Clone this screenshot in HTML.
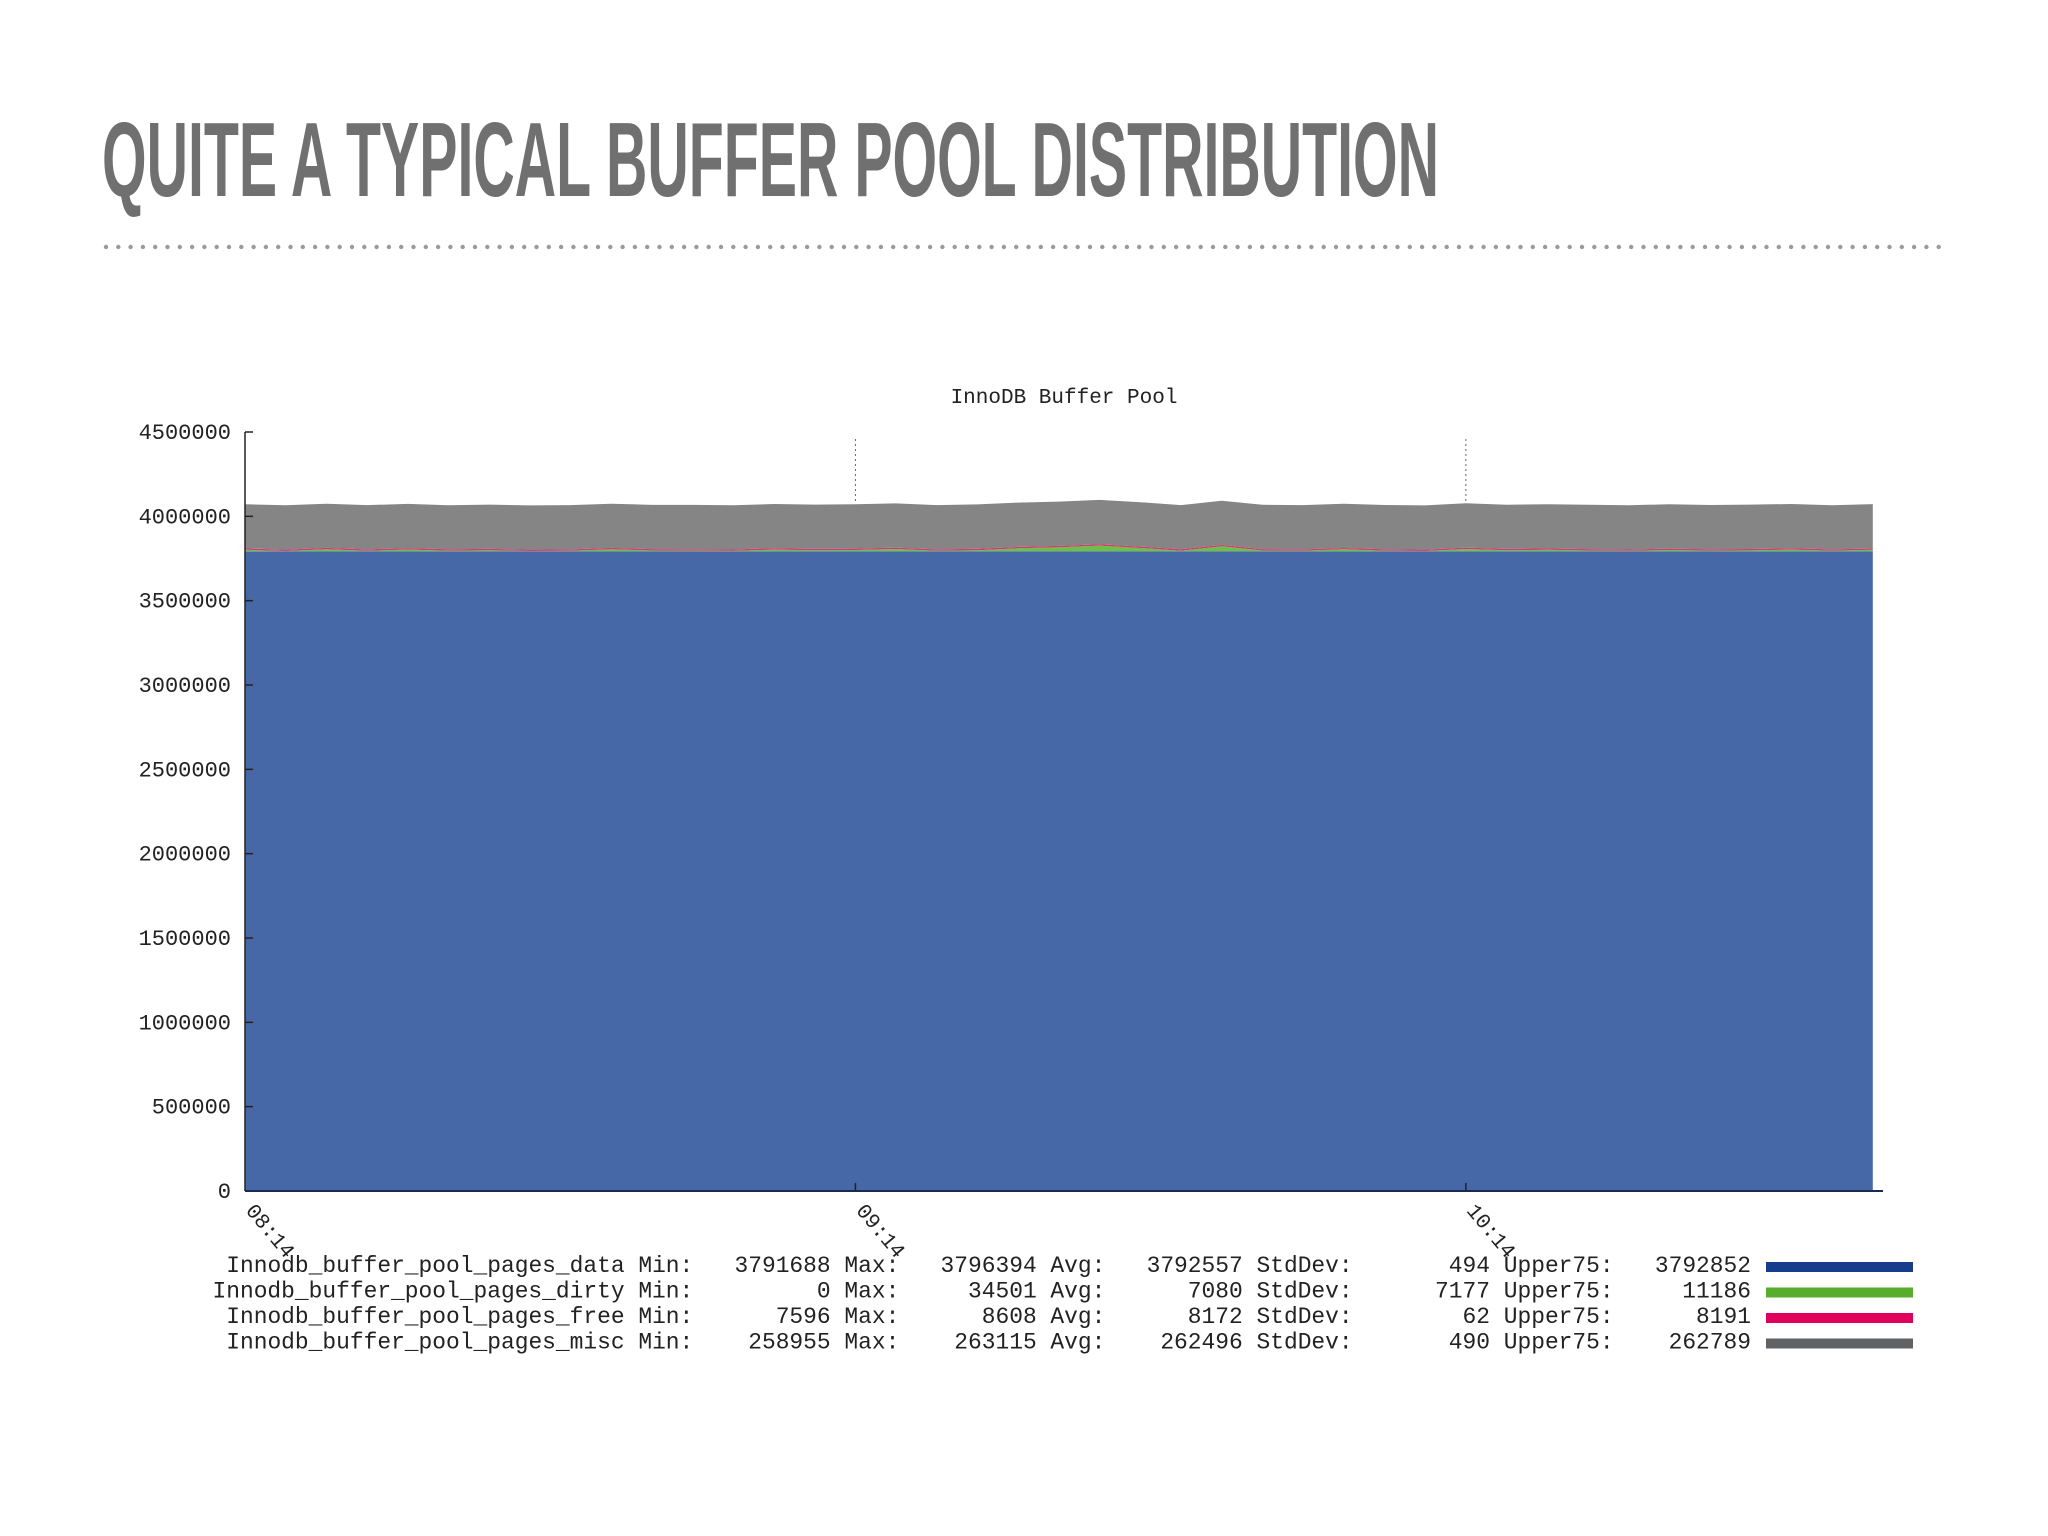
<!DOCTYPE html>
<html><head><meta charset="utf-8"><style>
html,body{margin:0;padding:0;background:#fff;}
svg{display:block;}
</style></head><body>
<svg id="chart" width="2048" height="1536" viewBox="0 0 2048 1536" xmlns="http://www.w3.org/2000/svg">
<text x="102" y="196" font-family="Liberation Sans, sans-serif" font-weight="bold" font-size="106" fill="#707070" textLength="1337" lengthAdjust="spacingAndGlyphs">QUITE A TYPICAL BUFFER POOL DISTRIBUTION</text>
<g id="dots"></g>
<text x="1064" y="403" text-anchor="middle" font-family="Liberation Mono, monospace" font-size="21" fill="#222">InnoDB Buffer Pool</text>
<g id="plot"></g>
<g id="yaxis"></g>
<g id="xaxis"></g>
<g id="legend"></g>
</svg>
<script>
const times=[0,4,8,12,16,20,24,28,32,36,40,44,48,52,56,60,64,68,72,76,80,84,88,92,96,100,104,108,112,116,120,124,128,132,136,140,144,148,152,156,160];
const dataSeries=[3792500,3792600,3792400,3792700,3792500,3792300,3792600,3792500,3792800,3792400,3792500,3792600,3792300,3792700,3792500,3792400,3792600,3792800,3792500,3792400,3792700,3792600,3792500,3792400,3792600,3792500,3792700,3792300,3792500,3792600,3792400,3792700,3792500,3792600,3792400,3792500,3792700,3792300,3792600,3792500,3792400];
const dirtySeries=[9000,2000,12000,3000,11000,4000,6000,2000,3000,12000,5000,4000,3000,10000,6000,8000,14000,3000,7000,18000,24000,34000,20000,4000,30000,5000,3000,12000,4000,2000,14000,6000,9000,5000,3000,8000,4000,6000,10000,3000,9000];
const freeSeries=[8200,8150,8190,8170,8210,8160,8180,8200,8140,8190,8170,8200,8160,8180,8190,8150,8210,8170,8190,8160,8200,8180,8170,8190,8150,8200,8180,8160,8190,8170,8200,8150,8180,8190,8170,8160,8200,8180,8190,8170,8180];
const miscSeries=[262000,262800,261500,263000,262200,261800,262600,262100,262900,262400,261900,262700,262300,262000,262800,262500,262100,262600,262900,263100,262700,262400,263000,262300,262100,262600,262800,262200,262500,262000,262900,262400,262100,262700,262300,262600,262200,262800,262400,262100,262900];
const yTicks=[0,500000,1000000,1500000,2000000,2500000,3000000,3500000,4000000,4500000];
const xTickMinutes=[0,60,120];
const xTickLabels=["08:14","09:14","10:14"];
const legendNames=["Innodb_buffer_pool_pages_data","Innodb_buffer_pool_pages_dirty","Innodb_buffer_pool_pages_free","Innodb_buffer_pool_pages_misc"];
const legendMin=["3791688","0","7596","258955"];
const legendMax=["3796394","34501","8608","263115"];
const legendAvg=["3792557","7080","8172","262496"];
const legendStd=["494","7177","62","490"];
const legendUp=["3792852","11186","8191","262789"];

const NS="http://www.w3.org/2000/svg";
const X0=245,X1=1883,Y0=1191,Y1=432,TMAX=161,VMAX=4500000;
const xs=t=>X0+(X1-X0)*t/TMAX;
const ys=v=>Y0-(Y0-Y1)*v/VMAX;
function mk(tag,attrs,parent){const e=document.createElementNS(NS,tag);for(const k in attrs)e.setAttribute(k,attrs[k]);parent.appendChild(e);return e;}

const dots=document.getElementById('dots');
for(let x=106;x<=1946;x+=12.3){
  const d=mk('circle',{cx:x.toFixed(1),cy:247,r:2.2,fill:'#9a9a9a'},dots);
  
  
}

const plot=document.getElementById('plot');
const s1=dataSeries, s2=dataSeries.map((v,i)=>v+dirtySeries[i]);
const s3=s2.map((v,i)=>v+freeSeries[i]), s4=s3.map((v,i)=>v+miscSeries[i]);
function area(lo,hi,fill,name){
  let d='M'+xs(times[0])+','+ys(hi[0]);
  for(let i=1;i<times.length;i++)d+=' L'+xs(times[i]).toFixed(1)+','+ys(hi[i]).toFixed(1);
  for(let i=times.length-1;i>=0;i--)d+=' L'+xs(times[i]).toFixed(1)+','+(lo?ys(lo[i]):Y0).toFixed(1);
  const p=mk('path',{d:d+'Z',fill:fill},plot);
  
  
}
area(null,s1,'#4668a6','area-pages-data');
area(s1,s2,'#6cc04a','area-pages-dirty');
area(s2,s3,'#d4386e','area-pages-free');
area(s3,s4,'#858585','area-pages-misc');

const xa=document.getElementById('xaxis');
xTickMinutes.forEach((t,i)=>{
  const x=xs(t);
  if(t>0){
    const g=mk('line',{x1:x,y1:439,x2:x,y2:ys(s4[Math.round(t/4)])-2,stroke:'#666','stroke-width':1,'stroke-dasharray':'2,3'},xa);
    
    
    const tk=mk('line',{x1:x,y1:Y0,x2:x,y2:Y0-8,stroke:'#222','stroke-width':1.5},xa);
    
    
  }
  const tx=mk('text',{x:x,y:Y0+20,transform:`rotate(50 ${x} ${Y0+20})`,'font-family':'Liberation Mono, monospace','font-size':21,fill:'#222'},xa);
  tx.textContent=xTickLabels[i];
  
  
});
const xl=mk('line',{x1:X0,y1:Y0,x2:X1,y2:Y0,stroke:'#1a2a50','stroke-width':2},xa);



const ya=document.getElementById('yaxis');
const yl=mk('line',{x1:X0,y1:Y1,x2:X0,y2:Y0,stroke:'#222','stroke-width':1.5},ya);


yTicks.forEach(v=>{
  const y=ys(v);
  const tk=mk('line',{x1:X0,y1:y,x2:X0+8,y2:y,stroke:'#222','stroke-width':1.5},ya);
  
  
  const t=mk('text',{x:231,y:y+7,'text-anchor':'end','font-family':'Liberation Mono, monospace','font-size':22,fill:'#222'},ya);
  t.textContent=String(v);
  
  
});

const lg=document.getElementById('legend');
const swatch=['#163d8c','#5aac2c','#e0005c','#606266'];
const pad=(s,n)=>s.padStart(n,' ');
legendNames.forEach((n,i)=>{
  const y=1272+i*25.5;
  const str=n+' Min:'+pad(legendMin[i],10)+' Max:'+pad(legendMax[i],10)+' Avg:'+pad(legendAvg[i],10)+' StdDev:'+pad(legendStd[i],10)+' Upper75:'+pad(legendUp[i],10);
  const t=mk('text',{x:1751,y:y,'text-anchor':'end','font-family':'Liberation Mono, monospace','font-size':22.9,fill:'#222','xml:space':'preserve'},lg);
  t.style.whiteSpace='pre';
  t.textContent=str;
  
  
  const r=mk('rect',{x:1766,y:y-10,width:147,height:10,fill:swatch[i]},lg);
  
  
});
</script>
</body></html>
